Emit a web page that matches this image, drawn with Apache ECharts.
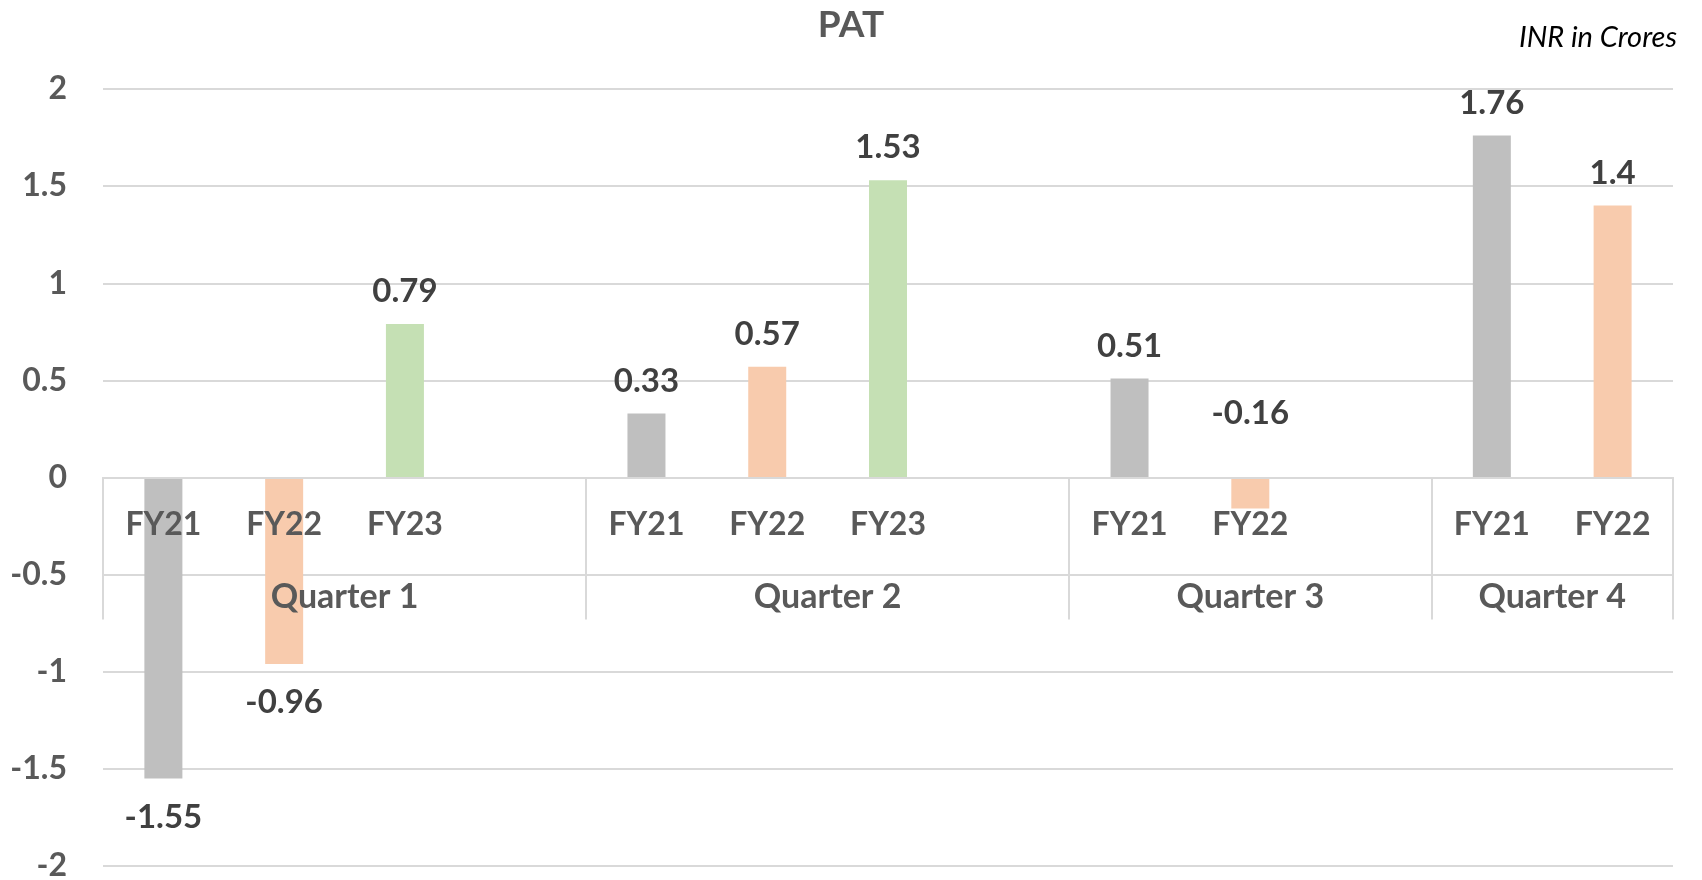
<!DOCTYPE html>
<html>
<head>
<meta charset="utf-8">
<style>
  html, body { margin: 0; padding: 0; background: #fff; }
  #main { width: 1702px; height: 880px; }
</style>
<script src="https://cdn.jsdelivr.net/npm/echarts@6/dist/echarts.min.js"></script>
</head>
<body>
<div id="main"></div>
<script>
// one slot per bar, empty slots keep the gaps between quarters
var quarters = ['Quarter 1', 'Quarter 2', 'Quarter 3', 'Quarter 4'];
var quarterSlots = [4, 4, 3, 2];
var slotLabels = ['FY21', 'FY22', 'FY23', '', 'FY21', 'FY22', 'FY23', '', 'FY21', 'FY22', '', 'FY21', 'FY22'];
var patValues = [-1.55, -0.96, 0.79, null, 0.33, 0.57, 1.53, null, 0.51, -0.16, null, 1.76, 1.4];
var fyColors = { FY21: '#bfbfbf', FY22: '#f8cbad', FY23: '#c5e0b4' };
var yMin = -2, yMax = 2;

// quarter borders and centers in slot units
var borders = [0];
quarterSlots.forEach(function (n) { borders.push(borders[borders.length - 1] + n); });
var centers = quarters.map(function (q, i) { return (borders[i] + borders[i + 1]) / 2; });

var chartDom = document.getElementById('main');
var myChart = echarts.init(chartDom);
var option;

var gridTop = 89, gridBottom = 14;
var gridHeight = chartDom.clientHeight - gridTop - gridBottom;
// lift the category axes from the bottom edge up to the zero line
var zeroOffset = -gridHeight * (0 - yMin) / (yMax - yMin);

var labelFont = { fontFamily: 'Lato', fontSize: 32, fontWeight: 'bold', color: '#595959' };

function barLabel(v) {
  if (v >= 0) return { position: 'top', distance: 16 };
  // short negative bars: label sits above, clear of the FY labels
  if (v > -0.5) return { position: 'top', distance: 48 };
  return { position: 'bottom', distance: 22 };
}

option = {
  animation: false,
  textStyle: { fontFamily: 'Lato' },
  title: [
    {
      text: 'PAT',
      left: 'center',
      top: 2,
      textStyle: { fontFamily: 'Lato', fontSize: 37, fontWeight: 'bold', color: '#595959' }
    },
    {
      text: 'INR in Crores',
      right: 20,
      top: 18,
      textStyle: { fontFamily: 'Lato', fontSize: 29, fontStyle: 'italic', fontWeight: 'normal', color: '#000' }
    }
  ],
  grid: { left: 103, right: 29, top: gridTop, bottom: gridBottom, outerBoundsMode: 'none' },
  xAxis: [
    {
      type: 'category',
      data: slotLabels,
      boundaryGap: true,
      position: 'bottom',
      offset: zeroOffset,
      z: 5,
      axisLine: { onZero: false, lineStyle: { color: '#d9d9d9', width: 2 } },
      axisTick: { show: false },
      axisLabel: Object.assign({ interval: 0, margin: 31 }, labelFont)
    },
    {
      type: 'value',
      min: 0,
      max: borders[borders.length - 1],
      position: 'bottom',
      offset: zeroOffset,
      z: 5,
      splitLine: { show: false },
      axisLine: { show: true, onZero: false, lineStyle: { color: '#d9d9d9', width: 2 } },
      axisTick: {
        show: true,
        customValues: borders,
        length: 142,
        lineStyle: { color: '#d9d9d9', width: 2 }
      },
      axisLabel: Object.assign({}, labelFont, {
        customValues: centers,
        margin: 103,
        fontSize: 34,
        formatter: function (v) {
          var i = centers.indexOf(v);
          return i >= 0 ? quarters[i] : '';
        }
      })
    }
  ],
  yAxis: {
    type: 'value',
    min: yMin,
    max: yMax,
    interval: 0.5,
    axisLine: { show: false },
    axisTick: { show: false },
    splitLine: { lineStyle: { color: '#d9d9d9', width: 2 } },
    axisLabel: Object.assign({ margin: 36 }, labelFont)
  },
  series: [
    {
      name: 'PAT',
      type: 'bar',
      xAxisIndex: 0,
      barWidth: 38,
      data: patValues.map(function (v, i) {
        if (v == null) return null;
        return {
          value: v,
          itemStyle: { color: fyColors[slotLabels[i]] },
          label: barLabel(v)
        };
      }),
      label: {
        show: true,
        fontFamily: 'Lato',
        fontSize: 33,
        fontWeight: 'bold',
        color: '#404040'
      }
    }
  ]
};

option && myChart.setOption(option);
</script>
</body>
</html>
